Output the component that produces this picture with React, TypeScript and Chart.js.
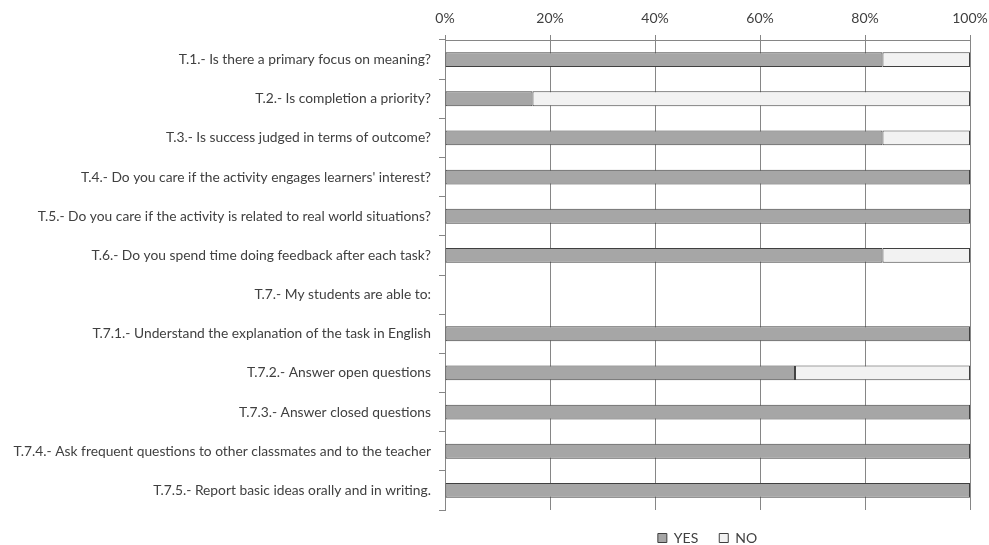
import React, { useEffect, useRef } from "react";
import { Chart, registerables } from "chart.js";

Chart.register(...registerables);

const categories = [
  "T.1.- Is there a primary focus on meaning?",
  "T.2.- Is completion a priority?",
  "T.3.- Is success judged in terms of outcome?",
  "T.4.- Do you care if the activity engages learners' interest?",
  "T.5.- Do you care if the activity is related to real world situations?",
  "T.6.- Do you spend time doing feedback after each task?",
  "T.7.- My students are able to:",
  "T.7.1.- Understand the explanation of the task in English",
  "T.7.2.- Answer open questions",
  "T.7.3.- Answer closed questions",
  "T.7.4.- Ask frequent questions to other classmates and to the teacher",
  "T.7.5.- Report basic ideas orally and in writing.",
];

const yesValues = [83.33, 16.67, 83.33, 100, 100, 83.33, 0, 100, 66.67, 100, 100, 100];
const noValues = [16.67, 83.33, 16.67, 0, 0, 16.67, 0, 0, 33.33, 0, 0, 0];

const FONT = "Lato, 'Open Sans', sans-serif";

export default function App() {
  const ref = useRef<HTMLCanvasElement>(null);
  useEffect(() => {
    document.body.style.margin = "0";
    const chart = new Chart(ref.current!, {
      type: "bar",
      data: {
        labels: categories,
        datasets: [
          {
            label: "YES",
            data: yesValues,
            backgroundColor: "#a6a6a6",
            borderColor: "#404040",
            borderWidth: 1,
            borderSkipped: false,
            barPercentage: 0.76,
            categoryPercentage: 0.5,
          },
          {
            label: "NO",
            data: noValues,
            backgroundColor: "#f2f2f2",
            borderColor: "#404040",
            borderWidth: 1,
            borderSkipped: false,
            barPercentage: 0.76,
            categoryPercentage: 0.5,
          },
        ],
      },
      options: {
        indexAxis: "y",
        animation: false,
        responsive: false,
        maintainAspectRatio: false,
        layout: { padding: { left: 0, right: 19, top: 0, bottom: -10 } },
        plugins: {
          tooltip: { enabled: false },
          legend: {
            position: "bottom",
            fullSize: false,
            labels: {
              boxWidth: 9,
              boxHeight: 9,
              padding: 21,
              color: "#404040",
              font: { family: FONT, size: 14 },
              generateLabels: (c: any) =>
                c.data.datasets.map((d: any, i: number) => ({
                  text: d.label,
                  fillStyle: d.backgroundColor,
                  strokeStyle: "#404040",
                  lineWidth: 1,
                  fontColor: "#404040",
                  datasetIndex: i,
                  hidden: false,
                })),
            },
          },
        },
        scales: {
          x: {
            position: "top",
            stacked: true,
            min: 0,
            max: 100,
            ticks: {
              stepSize: 20,
              callback: (v: any) => v + "%",
              color: "#404040",
              font: { family: FONT, size: 14 },
              padding: 8,
            },
            grid: { color: "#868686", lineWidth: 1, tickLength: 5, drawTicks: true },
            border: { display: true, color: "#868686" },
            afterFit: (s: any) => {
              s.height = 40;
              s.paddingLeft = 0;
              s.paddingRight = 0;
            },
          },
          y: {
            stacked: true,
            ticks: {
              color: "#404040",
              font: { family: FONT, size: 13.8 },
              padding: 8,
              autoSkip: false,
            },
            grid: { offset: true, drawOnChartArea: false, tickLength: 6, color: "#868686" },
            border: { display: true, color: "#868686" },
            afterFit: (s: any) => {
              s.width = 445;
            },
          },
        },
      },
    });
    return () => chart.destroy();
  }, []);
  return (
    <div style={{ position: "fixed", left: 0, top: 0, width: 989, height: 545, background: "#fff" }}>
      <canvas ref={ref} width={989} height={545} style={{ width: 989, height: 545 }} />
    </div>
  );
}
